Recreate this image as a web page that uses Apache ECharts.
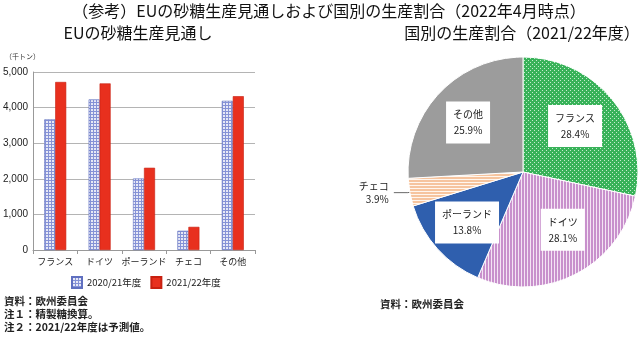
<!DOCTYPE html>
<html><head><meta charset="utf-8">
<script src="https://cdn.jsdelivr.net/npm/echarts@6/dist/echarts.min.js"></script>
<style>html,body{margin:0;padding:0;background:#fff;}#c{width:640px;height:337px;}</style>
</head><body><div id="c"></div>
<script>
const categories = ['フランス', 'ドイツ', 'ポーランド', 'チェコ', 'その他'];
const seriesNames = ['2020/21年度', '2021/22年度'];
const prod2021 = [3670, 4230, 2010, 540, 4190];
const prod2122 = [4720, 4680, 2310, 650, 4320];
const yTicks = [0, 1000, 2000, 3000, 4000, 5000];
const pieNames = ['フランス', 'ドイツ', 'ポーランド', 'チェコ', 'その他'];
const pieShares = [28.4, 28.1, 13.8, 3.9, 25.9];

const FONT = '"Noto Sans CJK JP", "Noto Sans", sans-serif';

function pattern(w, h, draw) {
  const c = document.createElement('canvas');
  c.width = w; c.height = h;
  const g = c.getContext('2d');
  draw(g);
  return { image: c, repeat: 'repeat' };
}
const gridBlue = pattern(3, 3, g => {
  g.fillStyle = '#e6e8f6'; g.fillRect(0, 0, 3, 3);
  g.fillStyle = '#8592d6'; g.fillRect(0, 0, 3, 1); g.fillRect(0, 0, 1, 3);
});
const dotGreen = pattern(4, 4, g => {
  g.fillStyle = '#38b259'; g.fillRect(0, 0, 4, 4);
  g.fillStyle = '#c4ecce'; g.fillRect(0, 0, 1, 1); g.fillRect(2, 2, 1, 1);
});
const stripePink = pattern(3, 3, g => {
  g.fillStyle = '#f4e4f4'; g.fillRect(0, 0, 3, 3);
  g.fillStyle = '#c890cc'; g.fillRect(0, 0, 2, 3);
});
const stripePeach = pattern(3, 3, g => {
  g.fillStyle = '#fff6ee'; g.fillRect(0, 0, 3, 3);
  g.fillStyle = '#f6c49e'; g.fillRect(0, 0, 3, 2);
});
const pieColors = [dotGreen, stripePink, '#2f5fae', stripePeach, '#9c9c9c'];
const labelOffsets = [[5, -8], [12, 4], [-11, 10], null, [-11, -8]];

const chart = echarts.init(document.getElementById('c'), null, { renderer: 'canvas' });
const fmt = v => String(v).replace(/\B(?=(\d{3})+(?!\d))/g, ',');

chart.setOption({
  animation: false,
  textStyle: { fontFamily: FONT },
  title: [
    { text: '（参考）EUの砂糖生産見通しおよび国別の生産割合（2022年4月時点）', left: 324, top: -2, textAlign: 'center',
      textStyle: { fontSize: 16, fontWeight: 'normal', color: '#111', fontFamily: FONT } },
    { text: 'EUの砂糖生産見通し', left: 133, top: 20, textAlign: 'center',
      textStyle: { fontSize: 16, fontWeight: 'normal', color: '#111', fontFamily: FONT } },
    { text: '国別の生産割合（2021/22年度）', left: 517, top: 20, textAlign: 'center',
      textStyle: { fontSize: 16, fontWeight: 'normal', color: '#111', fontFamily: FONT } }
  ],
  legend: {
    data: seriesNames, left: 66, top: 271, itemWidth: 10, itemHeight: 11, itemGap: 9,
    icon: 'rect', textStyle: { fontSize: 9.5, color: '#222', fontFamily: FONT }
  },
  grid: { left: 32, right: 385, top: 72, bottom: 87 },
  xAxis: {
    type: 'category', data: categories,
    axisLine: { lineStyle: { color: '#999' } },
    axisTick: { show: true, length: 4, lineStyle: { color: '#999' } },
    axisLabel: { interval: 0, fontSize: 9, color: '#222', margin: 7, fontFamily: FONT }
  },
  yAxis: {
    type: 'value', min: yTicks[0], max: yTicks[yTicks.length - 1], interval: 1000,
    axisLine: { show: true, lineStyle: { color: '#999' } },
    axisTick: { show: false },
    splitLine: { lineStyle: { color: '#b4b4b4' } },
    axisLabel: { fontSize: 10, color: '#222', margin: 5, formatter: fmt, fontFamily: 'Liberation Sans, Arial, sans-serif' }
  },
  series: [
    { name: seriesNames[0], type: 'bar', data: prod2021, barWidth: 11, barGap: '0%',
      itemStyle: { color: gridBlue, borderColor: '#6070c0', borderWidth: 0.6 } },
    { name: seriesNames[1], type: 'bar', data: prod2122, barWidth: 11,
      itemStyle: { color: '#e8301e', borderColor: '#c82010', borderWidth: 0.6 } },
    { name: 'share', type: 'pie', center: [523, 172], radius: 115, startAngle: 90, clockwise: true,
      legendHoverLink: false,
      itemStyle: { borderColor: '#fff', borderWidth: 1 },
      label: { position: 'inside', formatter: '{b}\n{c}%', backgroundColor: '#fff', padding: [5, 7],
        fontSize: 10, lineHeight: 16, color: '#222', fontFamily: FONT },
      data: pieNames.map((n, i) => {
        const d = { name: n, value: pieShares[i], itemStyle: { color: pieColors[i] } };
        if (labelOffsets[i]) d.label = { offset: labelOffsets[i] };
        if (i === 3) {
          d.label = { position: 'outside', backgroundColor: 'transparent', padding: 0, align: 'left', lineHeight: 13 };
          d.labelLine = { show: true, length: 2, length2: 14, lineStyle: { color: '#444', width: 0.8 } };
        }
        return d;
      })
    }
  ],
  graphic: [
    { type: 'text', left: 4, top: 296, style: { text: '資料：欧州委員会', font: 'bold 10.5px ' + FONT, fill: '#222' } },
    { type: 'text', left: 4, top: 309, style: { text: '注１：精製糖換算。', font: 'bold 10.5px ' + FONT, fill: '#222' } },
    { type: 'text', left: 4, top: 322, style: { text: '注２：2021/22年度は予測値。', font: 'bold 10.5px ' + FONT, fill: '#222' } },
    { type: 'text', left: 380, top: 299, style: { text: '資料：欧州委員会', font: 'bold 10.5px ' + FONT, fill: '#222' } },
    { type: 'text', left: 5, top: 53, style: { text: '（千トン）', font: '7px ' + FONT, fill: '#333' } }
  ]
});
</script></body></html>
